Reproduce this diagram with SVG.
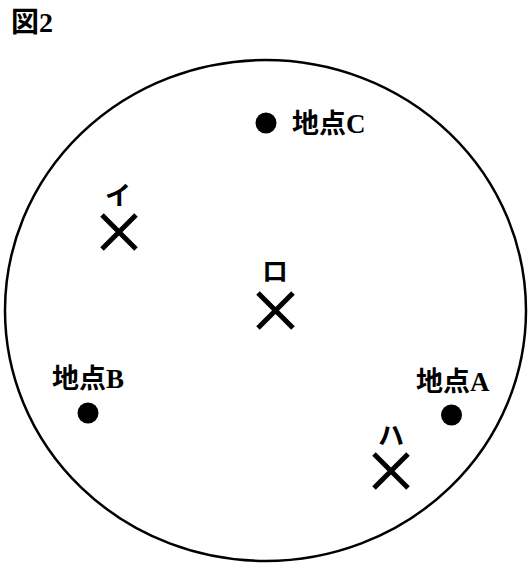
<svg xmlns="http://www.w3.org/2000/svg" width="530" height="563" viewBox="0 0 530 563">
<style>
.t{font-family:"Liberation Serif","Noto Sans CJK JP",serif;font-weight:bold;fill:#000}
.lbl{font-size:27px}
.kana{font-size:26px}
.dot{fill:#000}
.x{stroke:#000;stroke-width:5;fill:none}
</style>
<rect width="530" height="563" fill="#fff"/>
<text class="t" x="11" y="32" font-size="28">図2</text>
<g id="boundary"><ellipse cx="265.5" cy="310.5" rx="260.5" ry="250.5" fill="none" stroke="#000" stroke-width="2.5"/></g>
<g id="pointC"><circle class="dot" cx="266" cy="123" r="10.5"/><text class="t lbl" x="292" y="133">地点C</text></g>
<g id="pointB"><circle class="dot" cx="88" cy="413" r="10.5"/><text class="t lbl" x="52" y="388">地点B</text></g>
<g id="pointA"><circle class="dot" cx="451.5" cy="415" r="10.5"/><text class="t lbl" x="416" y="391">地点A</text></g>
<g id="i"><text class="t kana" x="118" y="205" text-anchor="middle">イ</text><path class="x" d="M102 215L136 249M136 215L102 249"/></g>
<g id="ro"><text class="t kana" x="275" y="281" text-anchor="middle">ロ</text><path class="x" d="M258 293L293 328M293 293L258 328"/></g>
<g id="ha"><text class="t kana" x="391" y="445" text-anchor="middle">ハ</text><path class="x" d="M374 454L408 488M408 454L374 488"/></g>
</svg>
